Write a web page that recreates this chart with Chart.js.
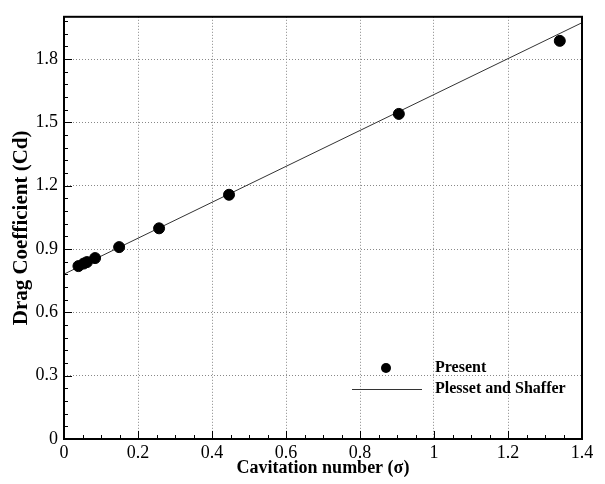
<!DOCTYPE html>
<html>
<head>
<meta charset="utf-8">
<script src="https://cdn.jsdelivr.net/npm/chart.js@4"></script>
<style>
  html, body { margin: 0; padding: 0; background: #fff; }
  #wrap { width: 605px; height: 484px; }
</style>
</head>
<body>
<div id="wrap"><canvas id="dragChart" width="605" height="484"></canvas></div>
<script>
// values
const sigmaPresent = [0.039, 0.053, 0.062, 0.084, 0.149, 0.257, 0.446, 0.905, 1.34];
const cdPresent = [0.819, 0.831, 0.838, 0.857, 0.909, 0.998, 1.157, 1.54, 1.886];
const sigmaPlesset = [0, 1.4];
const cdPlesset = [0.781, 1.972];
const seriesNames = ['Present', 'Plesset and Shaffer'];

const serif = "'Liberation Serif', 'Times New Roman', serif";

// inward ticks on bottom and left axes, frame, legend inside the plot
const framePlugin = {
    id: 'frame',
    afterDraw(chart) {
        const ctx = chart.ctx;
        const a = chart.chartArea;
        const xs = chart.scales.x, ys = chart.scales.y;
        ctx.save();
        ctx.strokeStyle = '#000';
        ctx.lineWidth = 1;
        for (let i = 0; i <= 28; i++) {
            const v = i * 0.05;
            const px = Math.round(xs.getPixelForValue(v)) + 0.5;
            const len = (i % 4 === 0) ? 8 : 4;
            ctx.beginPath();
            ctx.moveTo(px, a.bottom);
            ctx.lineTo(px, a.bottom - len);
            ctx.stroke();
        }
        for (let i = 0; i <= 33; i++) {
            const v = i * 0.06;
            const py = Math.round(ys.getPixelForValue(v)) + 0.5;
            const len = (i % 5 === 0) ? 8 : 4;
            ctx.beginPath();
            ctx.moveTo(a.left, py);
            ctx.lineTo(a.left + len, py);
            ctx.stroke();
        }
        ctx.lineWidth = 2;
        ctx.strokeRect(a.left, a.top, a.right - a.left, a.bottom - a.top);

        // legend
        const lx = 386, ly1 = 368, ly2 = 389, tx = 435;
        ctx.fillStyle = '#000';
        ctx.beginPath();
        ctx.arc(lx, ly1, 5, 0, Math.PI * 2);
        ctx.fill();
        ctx.strokeStyle = '#333';
        ctx.lineWidth = 1;
        ctx.beginPath();
        ctx.moveTo(352, ly2 + 0.5);
        ctx.lineTo(422, ly2 + 0.5);
        ctx.stroke();
        ctx.font = 'bold 16px ' + serif;
        ctx.textBaseline = 'middle';
        ctx.textAlign = 'left';
        ctx.fillText(chart.data.datasets[0].label, tx, ly1);
        ctx.fillText(chart.data.datasets[1].label, tx, ly2);
        ctx.restore();
    }
};

new Chart(document.getElementById('dragChart'), {
    type: 'scatter',
    data: {
        datasets: [{
            label: seriesNames[0],
            data: sigmaPresent.map((s, i) => ({ x: s, y: cdPresent[i] })),
            backgroundColor: '#000',
            borderColor: '#000',
            pointRadius: 5.5,
            showLine: false
        }, {
            label: seriesNames[1],
            data: sigmaPlesset.map((s, i) => ({ x: s, y: cdPlesset[i] })),
            borderColor: '#333',
            borderWidth: 1,
            pointRadius: 0,
            showLine: true
        }]
    },
    options: {
        responsive: false,
        animation: false,
        layout: { padding: { left: 9, right: 23, top: 10, bottom: 5 } },
        plugins: {
            legend: { display: false },
            tooltip: { enabled: false }
        },
        scales: {
            x: {
                type: 'linear',
                min: 0,
                max: 1.4,
                afterFit(scale) { scale.height = 40; },
                border: { display: false, dash: [1, 2] },
                grid: {
                    color: '#888',
                    lineWidth: 1,
                    drawTicks: false
                },
                ticks: {
                    stepSize: 0.2,
                    padding: 3,
                    color: '#000',
                    font: { family: serif, size: 18 },
                    maxRotation: 0,
                    callback: v => Number(v.toFixed(1)).toString()
                },
                title: {
                    display: true,
                    text: 'Cavitation number (σ)',
                    color: '#000',
                    font: { family: serif, size: 18, weight: 'bold' },
                    padding: { top: 0, bottom: 0 }
                }
            },
            y: {
                type: 'linear',
                min: 0,
                max: 2.0,
                afterFit(scale) { scale.width = 55; },
                border: { display: false, dash: [1, 2] },
                grid: {
                    color: '#888',
                    lineWidth: 1,
                    drawTicks: false
                },
                ticks: {
                    stepSize: 0.3,
                    includeBounds: false,
                    padding: 6,
                    color: '#000',
                    font: { family: serif, size: 18 },
                    callback: v => Number(v.toFixed(1)).toString()
                },
                title: {
                    display: true,
                    text: 'Drag Coefficient (Cd)',
                    color: '#000',
                    font: { family: serif, size: 21, weight: 'bold' },
                    padding: { top: 0, bottom: 2 }
                }
            }
        }
    },
    plugins: [framePlugin]
});
</script>
</body>
</html>
